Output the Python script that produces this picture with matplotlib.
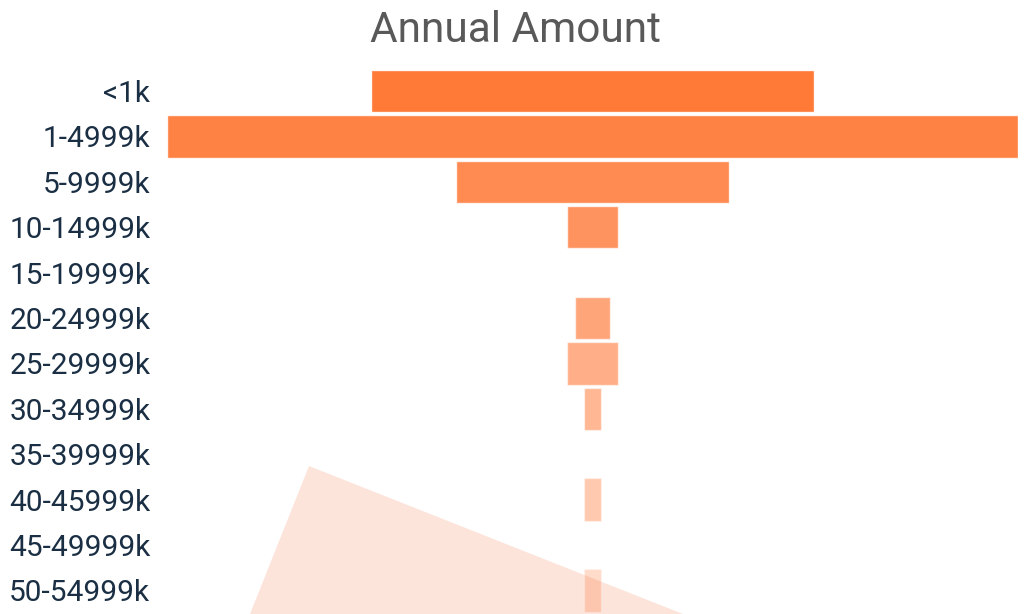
import matplotlib.pyplot as plt
import numpy as np
from matplotlib.patches import Polygon

# --- data ---
categories = ['<1k', '1-4999k', '5-9999k', '10-14999k', '15-19999k', '20-24999k',
              '25-29999k', '30-34999k', '35-39999k', '40-45999k', '45-49999k', '50-54999k']
amounts = [26, 50, 16, 3, 0, 2, 3, 1, 0, 1, 0, 1]

BASE = '#FF6A21'
TEXT_DARK = '#1B2F44'

plt.rcParams['font.family'] = ['Roboto', 'DejaVu Sans']

fig = plt.figure(figsize=(10.25, 6.14), dpi=100)
fig.patch.set_facecolor('white')

# funnel axes, widest bar fills the axes width
ax = fig.add_axes([167 / 1025, 0.0, 851 / 1025, 1 - 68.3 / 614])
ax.patch.set_alpha(0)

y = np.arange(len(categories))
alphas = np.linspace(0.9, 0.24, len(categories))
vals = np.array(amounts, dtype=float)
for yi, v, a in zip(y, vals, alphas):
    if v <= 0:
        continue
    ax.barh(yi, v, left=-v / 2, height=0.93, color=BASE, alpha=a,
            edgecolor='white', linewidth=1, zorder=3)

ax.set_xlim(-max(amounts) / 2, max(amounts) / 2)
ax.set_ylim(len(categories) - 0.48, -0.5)
ax.set_yticks(y)
ax.set_yticklabels(categories, fontsize=21.5, color=TEXT_DARK)
ax.tick_params(axis='y', length=0, pad=12)
ax.set_xticks([])
for s in ax.spines.values():
    s.set_visible(False)

# faint wedge overlay at the bottom
tri = Polygon([(309 / 1025, 1 - 466 / 614), (250 / 1025, 0), (683 / 1025, 0)],
              closed=True, transform=fig.transFigure, facecolor='#FBD3C4',
              alpha=0.6, edgecolor='none', zorder=2)
ax.add_artist(tri)

fig.text(516 / 1025, 1 - 31 / 614, 'Annual Amount', ha='center', va='center',
         fontsize=30.5, color='#595959')

fig.savefig('out.png', dpi=100)
